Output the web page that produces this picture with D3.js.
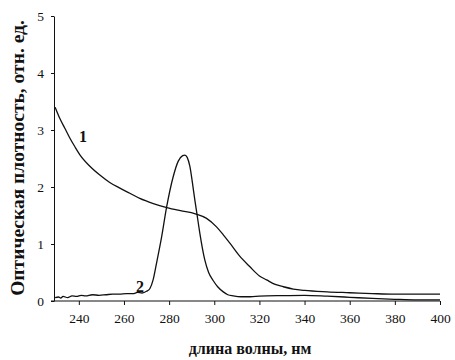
<!DOCTYPE html>
<html>
<head>
<meta charset="utf-8">
<script src="https://cdn.jsdelivr.net/npm/d3@7"></script>
<style>
  body { margin: 0; background: #fff; }
  svg { display: block; }
  .tick text { font-family: "Liberation Serif", "Times New Roman", Tinos, serif; font-size: 13.5px; fill: #111; }
  .domain, .tick line { stroke: #111; stroke-width: 1; }
  .curve { fill: none; stroke: #111; stroke-width: 1.3; }
  .lbl { font-family: "Liberation Serif", "Times New Roman", Tinos, serif; font-weight: bold; fill: #111; }
</style>
</head>
<body>
<div id="chart"></div>
<script>
// wavelength (nm) and optical density for curve 1
const wave1 = [229.5, 231.6, 233.8, 236, 238.2, 240.4, 245, 249.3, 253.7, 258.2, 262.6, 267, 273, 279, 285, 291.6, 296.6, 301, 304, 307, 311, 315.8, 320, 323.2, 327, 330.6, 335, 340, 350, 360, 370, 380, 390, 400];
const dens1 = [3.4, 3.2, 3.03, 2.86, 2.71, 2.57, 2.36, 2.21, 2.08, 1.98, 1.89, 1.8, 1.71, 1.64, 1.585, 1.53, 1.45, 1.3, 1.16, 1.01, 0.8, 0.6, 0.44, 0.37, 0.29, 0.25, 0.21, 0.185, 0.16, 0.145, 0.13, 0.12, 0.12, 0.12];

// curve 2
const wave2 = [229.5, 231, 232, 233, 235, 237, 239, 241, 243, 246, 249, 252, 255, 258, 261, 264, 266, 268, 270, 271.5, 272.9, 274.4, 276.7, 278.9, 281.8, 284, 286, 287, 288, 289.2, 290.3, 291.4, 292.5, 293.6, 295.8, 297.5, 299.5, 301.5, 304, 306, 308.4, 312, 316, 320, 330, 340, 350, 360, 370, 380, 390, 400];
const dens2 = [0.06, 0.07, 0.05, 0.08, 0.06, 0.09, 0.08, 0.1, 0.09, 0.11, 0.1, 0.11, 0.12, 0.12, 0.13, 0.13, 0.15, 0.14, 0.17, 0.22, 0.37, 0.66, 1.13, 1.65, 2.18, 2.45, 2.55, 2.56, 2.52, 2.36, 2.08, 1.77, 1.48, 1.19, 0.72, 0.5, 0.36, 0.25, 0.16, 0.11, 0.09, 0.075, 0.075, 0.085, 0.095, 0.1, 0.085, 0.065, 0.045, 0.03, 0.02, 0.02];

const xTicks = [240, 260, 280, 300, 320, 340, 360, 380, 400];
const yTicks = [0, 1, 2, 3, 4, 5];

const width = 455, height = 360;
const svg = d3.select('#chart').append('svg')
    .attr('width', width)
    .attr('height', height);

const x = d3.scaleLinear().domain([229, 400]).range([54, 440]);
const y = d3.scaleLinear().domain([0, 5]).range([301, 16]);

// axes
svg.append('g')
    .attr('transform', `translate(0,${y(0)})`)
    .call(d3.axisBottom(x).tickValues(xTicks).tickFormat(d3.format('d')).tickSize(4).tickSizeOuter(0).tickPadding(8))
    .call(g => g.select('.domain').attr('d', `M${x(229) - 3},0H${x(400)}`));

svg.append('g')
    .attr('transform', `translate(${x(229)},0)`)
    .call(d3.axisLeft(y).tickValues(yTicks).tickFormat(d3.format('d')).tickSize(3).tickSizeOuter(0).tickPadding(7));

// curves
const line = d3.line()
    .x(d => x(d[0]))
    .y(d => y(d[1]))
    .curve(d3.curveMonotoneX);

svg.append('path')
    .attr('class', 'curve')
    .attr('d', line(wave1.map((w, i) => [w, dens1[i]])));

svg.append('path')
    .attr('class', 'curve')
    .attr('d', line(wave2.map((w, i) => [w, dens2[i]])));

// curve numbers
svg.append('text').attr('class', 'lbl')
    .attr('x', 83).attr('y', 142)
    .attr('text-anchor', 'middle')
    .style('font-size', '16px')
    .text('1');
svg.append('text').attr('class', 'lbl')
    .attr('x', 140).attr('y', 292)
    .attr('text-anchor', 'middle')
    .style('font-size', '16px')
    .text('2');

// axis titles
svg.append('text').attr('class', 'lbl')
    .attr('x', 250).attr('y', 354)
    .attr('text-anchor', 'middle')
    .style('font-size', '16px')
    .text('длина волны, нм');

svg.append('text').attr('class', 'lbl')
    .attr('transform', 'translate(24,158) rotate(-90)')
    .attr('text-anchor', 'middle')
    .style('font-size', '19.5px')
    .text('Оптическая плотность, отн. ед.');
</script>
</body>
</html>
